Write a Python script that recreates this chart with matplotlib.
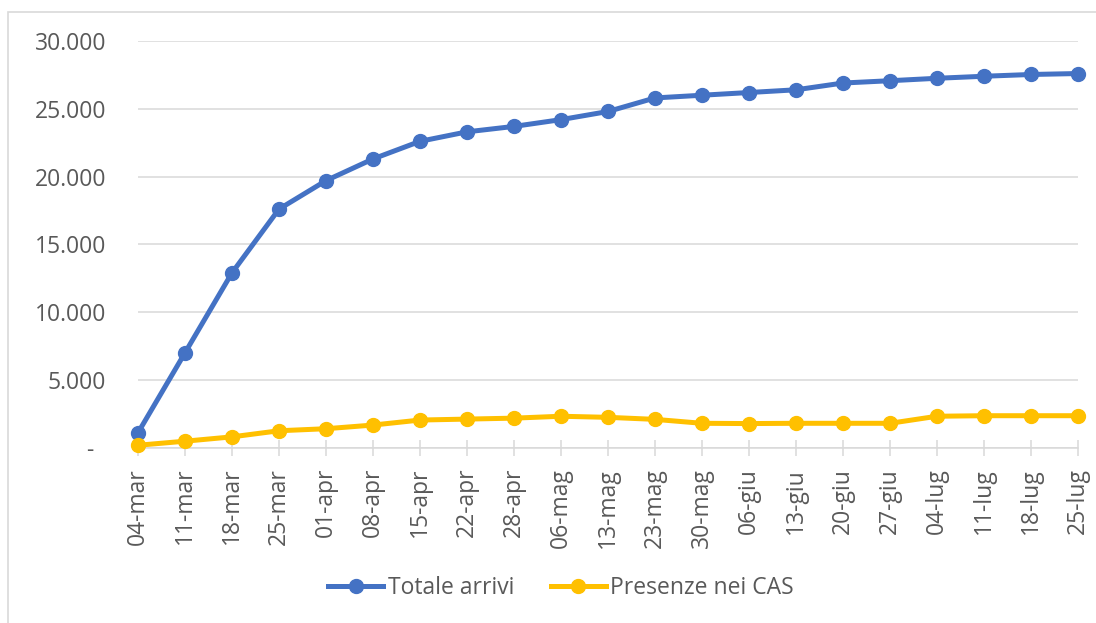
import matplotlib

matplotlib.use("Agg")

import matplotlib.pyplot as plt
from matplotlib.patches import Rectangle
from matplotlib.ticker import FuncFormatter

DATES = [
    "04-mar", "11-mar", "18-mar", "25-mar", "01-apr", "08-apr", "15-apr",
    "22-apr", "28-apr", "06-mag", "13-mag", "23-mag", "30-mag", "06-giu",
    "13-giu", "20-giu", "27-giu", "04-lug", "11-lug", "18-lug", "25-lug",
]
TOTALE_ARRIVI = [
    1100, 7000, 12900, 17600, 19700, 21300, 22600, 23300, 23700, 24200, 24800,
    25800, 26000, 26200, 26400, 26900, 27070, 27250, 27400, 27530, 27600,
]
PRESENZE_CAS = [
    180, 480, 800, 1250, 1400, 1670, 2040, 2110, 2180, 2320, 2240,
    2090, 1800, 1780, 1800, 1800, 1800, 2320, 2360, 2360, 2360,
]
Y_TICKS = [0, 5000, 10000, 15000, 20000, 25000, 30000]

BLUE = "#4472C4"
YELLOW = "#FFC000"
GRID = "#D9D9D9"
TEXT = "#595959"

plt.rcParams["font.family"] = ["Open Sans", "DejaVu Sans"]
FS = 16.5


def fmt_thousands(value, _pos):
    if value == 0:
        return "-  "
    return f"{int(value):,}".replace(",", ".")


fig = plt.figure(figsize=(10.96, 6.23), dpi=100)
fig.patches.append(
    Rectangle((8 / 1096, -0.1), 1.2, 1 - 12 / 623 + 0.1, transform=fig.transFigure,
              fill=False, edgecolor=GRID, linewidth=1.2)
)

ax = fig.add_axes([138 / 1096, 175.3 / 623, 940 / 1096, 406.7 / 623])
x = list(range(len(DATES)))
ax.plot(x, TOTALE_ARRIVI, color=BLUE, linewidth=3.6, marker="o", markersize=10,
        label="Totale arrivi", zorder=3, clip_on=False)
ax.plot(x, PRESENZE_CAS, color=YELLOW, linewidth=3.6, marker="o", markersize=10,
        label="Presenze nei CAS", zorder=3, clip_on=False)

ax.set_xlim(0, len(DATES) - 1)
ax.set_ylim(0, 30000)
ax.set_yticks(Y_TICKS)
ax.yaxis.set_major_formatter(FuncFormatter(fmt_thousands))
ax.set_xticks(x)
ax.set_xticklabels(DATES, rotation=90, va="top", ha="center")

ax.grid(axis="y", color=GRID, linewidth=1.1)
ax.set_axisbelow(True)
for side in ("top", "right", "left"):
    ax.spines[side].set_visible(False)
ax.spines["bottom"].set_color(GRID)
ax.spines["bottom"].set_linewidth(1.1)
ax.spines["bottom"].set_zorder(1)

ax.tick_params(axis="y", length=0, pad=23, labelsize=FS, labelcolor=TEXT)
ax.tick_params(axis="x", direction="inout", length=11, width=1.1, color=GRID,
               pad=9, labelsize=FS, labelcolor=TEXT)

fig.legend(loc="center", bbox_to_anchor=(561 / 1096, 35 / 623), ncol=2,
           frameon=False, fontsize=FS, labelcolor=TEXT, handlelength=2.4,
           handletextpad=0.2, columnspacing=1.6)

fig.savefig("out.png", dpi=100)
